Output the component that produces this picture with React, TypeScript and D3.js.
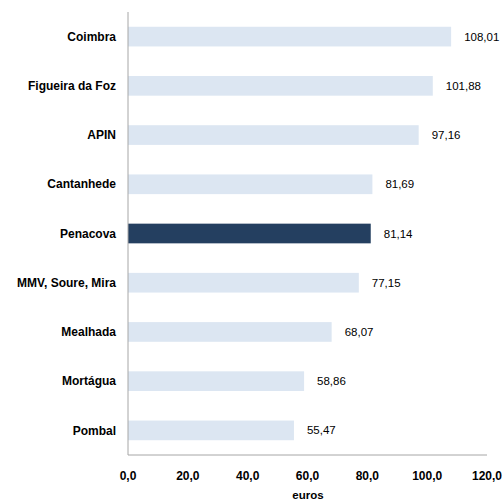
import React from "react";
import * as d3 from "d3";

const categories = ["Coimbra", "Figueira da Foz", "APIN", "Cantanhede", "Penacova", "MMV, Soure, Mira", "Mealhada", "Mortágua", "Pombal"];
const values = [108.01, 101.88, 97.16, 81.69, 81.14, 77.15, 68.07, 58.86, 55.47];
const highlight = "Penacova";
const xTicks = [0, 20, 40, 60, 80, 100, 120];
const axisTitle = "euros";

const W = 503;
const H = 503;
const left = 128;
const right = 487;
const top = 12;
const bottom = 455;

const fmt = (v: number, d: number) => v.toFixed(d).replace(".", ",");

export default function App() {
  const x = d3.scaleLinear().domain([0, 120]).range([left, right]);
  const y = d3.scaleBand<string>().domain(categories).range([top, bottom]).paddingInner(0.6).paddingOuter(0.3);
  const font = "'Liberation Sans', Arial, sans-serif";
  return (
    <svg width={W} height={H} style={{ position: "absolute", left: 0, top: 0 }} fontFamily={font}>
      <rect width={W} height={H} fill="#fff" />
      {categories.map((c, i) => {
        const yy = y(c)!;
        const bw = y.bandwidth();
        return (
          <g key={c}>
            <rect x={x(0)} y={yy} width={x(values[i]) - x(0)} height={bw} fill={c === highlight ? "#243f60" : "#dce6f2"} />
            <text x={116} y={yy + bw / 2} dy="0.35em" textAnchor="end" fontSize={12} fontWeight="bold" fill="#000">{c}</text>
            <text x={x(values[i]) + 13} y={yy + bw / 2} dy="0.35em" fontSize={11.5} fill="#000">{fmt(values[i], 2)}</text>
          </g>
        );
      })}
      <line x1={left} x2={left} y1={top} y2={bottom} stroke="#a6a6a6" strokeWidth={1} />
      <line x1={left} x2={right} y1={bottom} y2={bottom} stroke="#a6a6a6" strokeWidth={1} />
      {xTicks.map((t) => (
        <text key={t} x={x(t)} y={476} dy="0.35em" textAnchor="middle" fontSize={12} fontWeight="bold" fill="#000">{fmt(t, 1)}</text>
      ))}
      <text x={308} y={495} dy="0.35em" textAnchor="middle" fontSize={11.5} fontWeight="bold" fill="#000">{axisTitle}</text>
    </svg>
  );
}
